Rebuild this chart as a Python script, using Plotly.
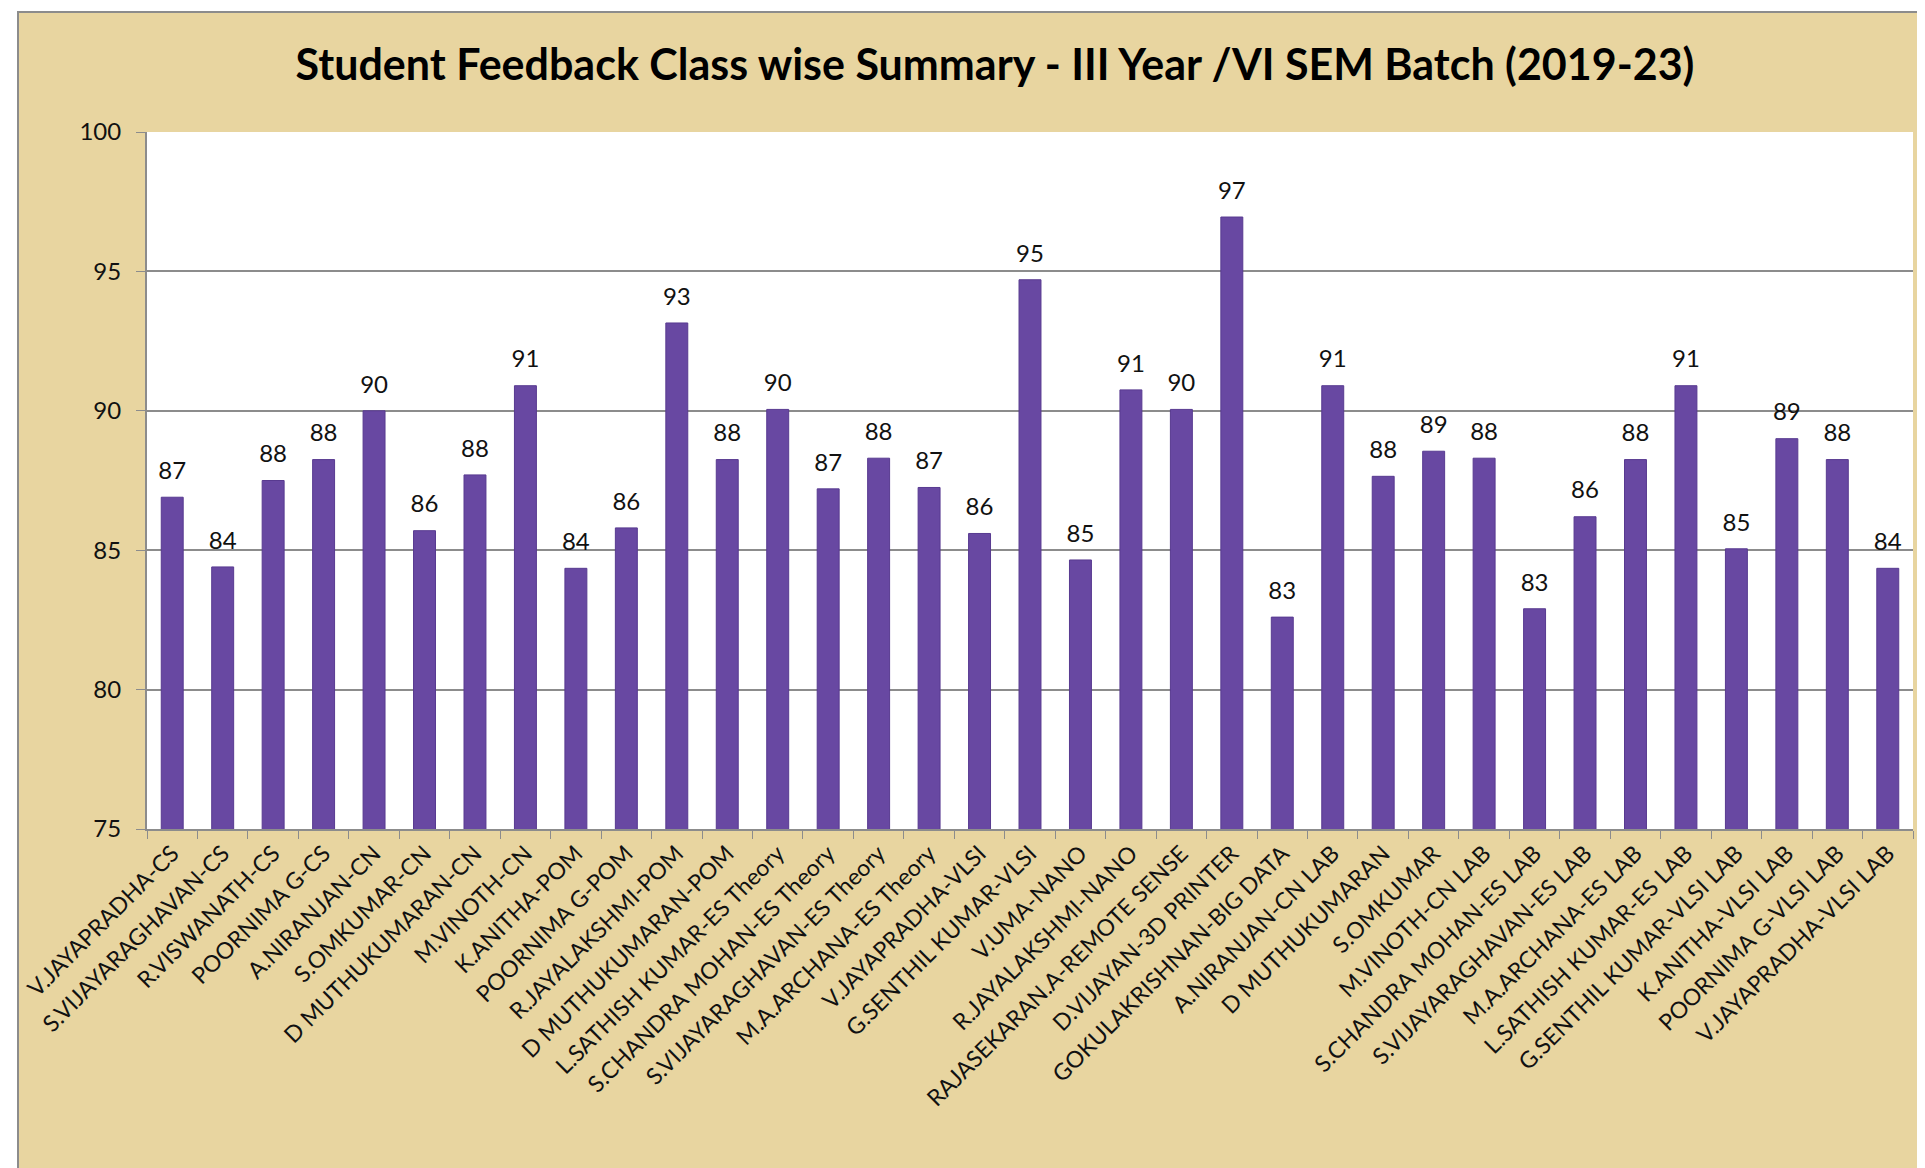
import plotly.graph_objects as go

categories = [
    "V.JAYAPRADHA-CS", "S.VIJAYARAGHAVAN-CS", "R.VISWANATH-CS", "POORNIMA G-CS",
    "A.NIRANJAN-CN", "S.OMKUMAR-CN", "D MUTHUKUMARAN-CN", "M.VINOTH-CN",
    "K.ANITHA-POM", "POORNIMA G-POM", "R.JAYALAKSHMI-POM", "D MUTHUKUMARAN-POM",
    "L.SATHISH KUMAR-ES Theory", "S.CHANDRA MOHAN-ES Theory", "S.VIJAYARAGHAVAN-ES Theory",
    "M.A.ARCHANA-ES Theory", "V.JAYAPRADHA-VLSI", "G.SENTHIL KUMAR-VLSI", "V.UMA-NANO",
    "R.JAYALAKSHMI-NANO", "RAJASEKARAN.A-REMOTE SENSE", "D.VIJAYAN-3D PRINTER",
    "GOKULAKRISHNAN-BIG DATA", "A.NIRANJAN-CN LAB", "D MUTHUKUMARAN", "S.OMKUMAR",
    "M.VINOTH-CN LAB", "S.CHANDRA MOHAN-ES LAB", "S.VIJAYARAGHAVAN-ES LAB",
    "M.A.ARCHANA-ES LAB", "L.SATHISH KUMAR-ES LAB", "G.SENTHIL KUMAR-VLSI LAB",
    "K.ANITHA-VLSI LAB", "POORNIMA G-VLSI LAB", "V.JAYAPRADHA-VLSI LAB",
]
scores = [
    86.9, 84.4, 87.5, 88.25, 90.0, 85.7, 87.7, 90.9,
    84.35, 85.8, 93.15, 88.25, 90.05, 87.2, 88.3, 87.25,
    85.6, 94.7, 84.65, 90.75, 90.05, 96.95, 82.6, 90.9,
    87.65, 88.55, 88.3, 82.9, 86.2, 88.25, 90.9, 85.05,
    89.0, 88.25, 84.35,
]
labels = [str(int(round(v))) for v in scores]

title_text = "Student Feedback Class wise Summary - III Year /VI SEM Batch (2019-23)"
y_range = [75, 100]
y_dtick = 5

W, H = 1925, 1168
L, R, T, B = 139, 20, 124, 347
pw, ph = W - L - R, H - T - B

def px_x(x):
    return (x - L) / pw

def px_y(y):
    return (H - B - y) / ph

fig = go.Figure()
fig.add_trace(go.Bar(
    x=categories, y=scores,
    marker=dict(color="#6848a2", line=dict(color="#583a90", width=1)),
    hoverinfo="x+y",
))
fig.add_trace(go.Scatter(
    x=categories, y=scores, text=labels, mode="markers+text",
    textposition="top center", cliponaxis=False,
    marker=dict(size=18, opacity=0),
    textfont=dict(size=24, family="Lato", color="#111111"),
    hoverinfo="skip",
))

frame_l, frame_r, frame_t = 10, 1917, 4
shapes = [
    dict(type="rect", xref="paper", yref="paper", x0=px_x(0), x1=px_x(frame_l),
         y0=px_y(H), y1=px_y(0), fillcolor="white", line=dict(width=0), layer="above"),
    dict(type="rect", xref="paper", yref="paper", x0=px_x(frame_r), x1=px_x(W),
         y0=px_y(H), y1=px_y(0), fillcolor="white", line=dict(width=0), layer="above"),
    dict(type="rect", xref="paper", yref="paper", x0=px_x(0), x1=px_x(W),
         y0=px_y(frame_t), y1=px_y(0), fillcolor="white", line=dict(width=0), layer="above"),
    dict(type="rect", xref="paper", yref="paper", x0=px_x(frame_l), x1=px_x(frame_r),
         y0=px_y(H + 5), y1=px_y(frame_t), line=dict(color="#8c8c8c", width=2),
         fillcolor="rgba(0,0,0,0)", layer="above"),
]

fig.update_layout(
    width=W, height=H,
    margin=dict(l=L, r=R, t=T, b=B, autoexpand=False),
    paper_bgcolor="#e8d5a0",
    plot_bgcolor="white",
    bargap=0.565,
    showlegend=False,
    shapes=shapes,
    font=dict(family="Lato", color="#111111"),
    title=dict(text="<b>" + title_text + "</b>", x=987 / W, xref="container",
               y=1 - 57 / H, yref="container", yanchor="middle", xanchor="center",
               font=dict(size=43, family="Lato", color="#000000")),
    xaxis=dict(
        range=[-0.5, len(categories) - 0.5],
        tickangle=-45, tickfont=dict(size=23, family="Lato", color="#111111"),
        showline=True, linecolor="#8c8c8c", linewidth=2,
        ticks="outside", tickson="boundaries", ticklen=8, tickcolor="#8c8c8c",
        showgrid=False, mirror=False,
    ),
    yaxis=dict(
        range=y_range, dtick=y_dtick, tickfont=dict(size=24, family="Lato", color="#111111"),
        showline=True, linecolor="#8c8c8c", linewidth=2,
        ticks="outside", ticklen=9, tickcolor="#8c8c8c", ticklabelstandoff=10,
        showgrid=True, gridcolor="#8c8c8c", gridwidth=1.5, zeroline=False,
    ),
)

fig.write_html("out.html")
